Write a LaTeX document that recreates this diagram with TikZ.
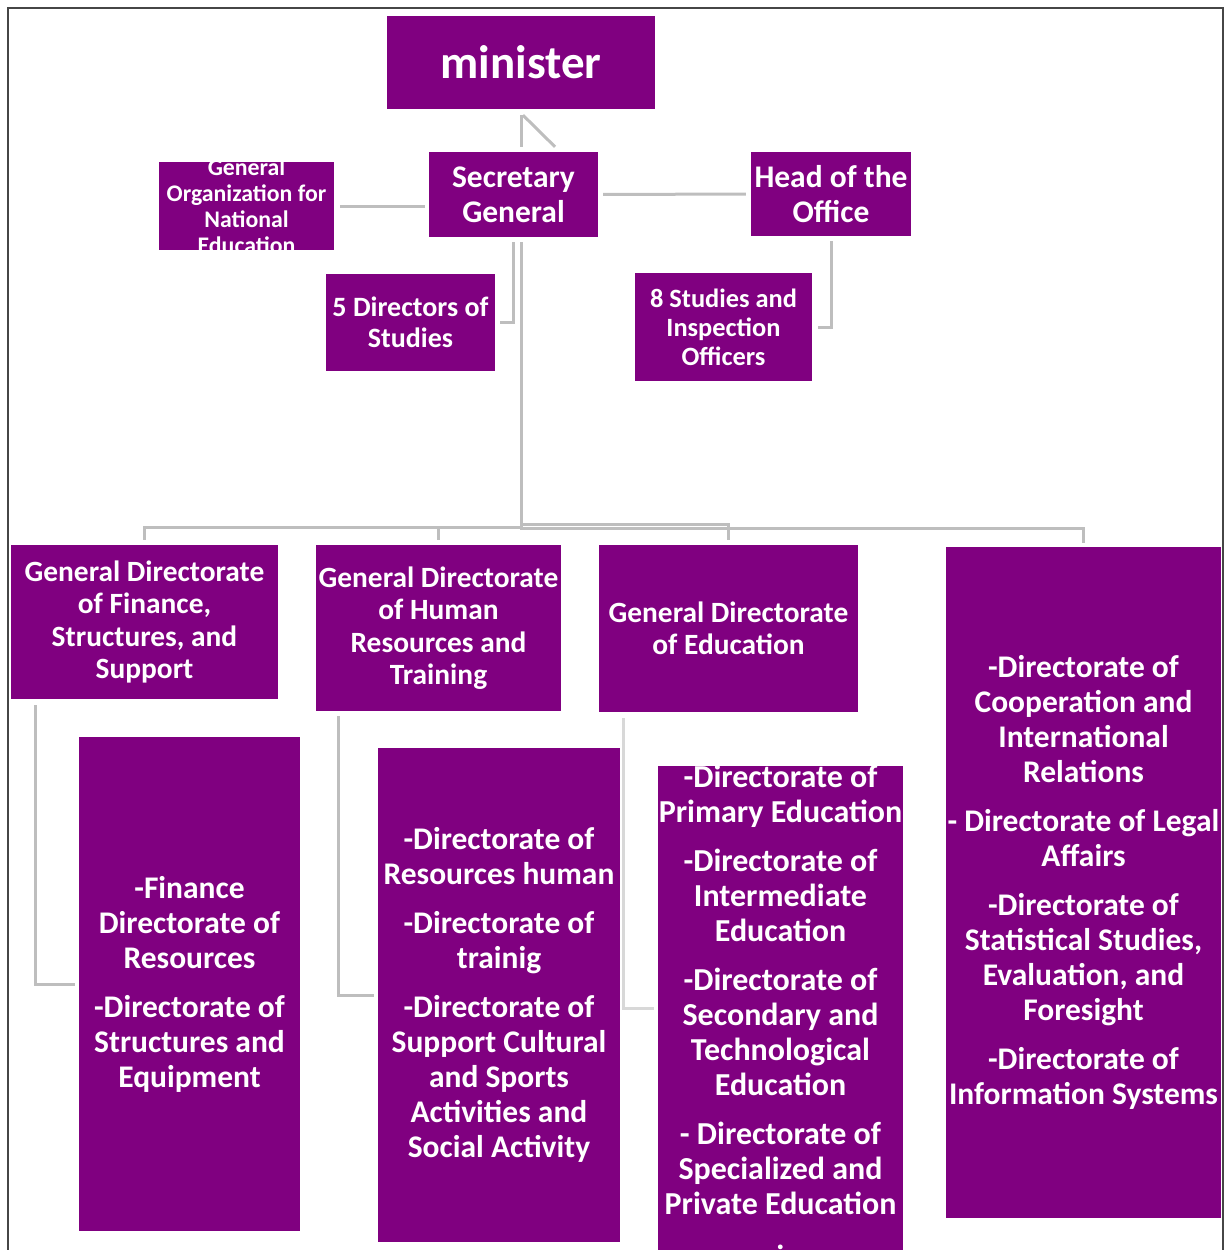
\documentclass[tikz,border=0pt]{standalone}
\usepackage{fontspec}
\setmainfont{Carlito}
\usetikzlibrary{calc}
\definecolor{orgpurple}{RGB}{128,0,128}
\definecolor{linkgray}{RGB}{190,190,190}
\definecolor{framegray}{RGB}{70,70,70}

\begin{document}
\begin{tikzpicture}[x=1pt,y=-1pt,
  box/.style={fill=orgpurple, text=white, inner sep=0pt, align=center},
  boxtext/.style={text=white, inner sep=0pt, align=center},
  link/.style={draw=linkgray, line width=3pt},
  fmin/.style={font=\fontsize{47}{52}\selectfont\bfseries},
  fbig/.style={font=\fontsize{31.5}{35}\selectfont\bfseries},
  fgd/.style={font=\fontsize{29.4}{32.5}\selectfont\bfseries},
  fdir/.style={font=\fontsize{28}{31}\selectfont\bfseries},
  finsp/.style={font=\fontsize{26.4}{29}\selectfont\bfseries},
  forg/.style={font=\fontsize{23.8}{26}\selectfont\bfseries},
]
\useasboundingbox (0,0) rectangle (1229,1250);

% outer frame, open at the bottom
\draw[framegray, line width=1.3pt] (8,1252) -- (8,8) -- (1223,8) -- (1223,1252);

% top level
\node[box, fmin, minimum width=268, minimum height=93] (min) at (521,62.5) {minister};
\node[box, fbig, minimum width=169, minimum height=85] (sg) at (513.5,194.5) {Secretary\\General};
\node[box, fbig, minimum width=160, minimum height=84] (head) at (831,194) {Head of the\\Office};
\node[box, minimum width=175, minimum height=88] (gorg) at (246.5,206) {};
\begin{scope}
  \clip (gorg.north west) rectangle (gorg.south east);
  \node[boxtext, forg] at (gorg.center) {General\\Organization for\\National\\Education};
\end{scope}
\node[box, fdir, minimum width=169, minimum height=97] (dir5) at (410.5,322.5) {5 Directors of\\Studies};
\node[box, finsp, minimum width=177, minimum height=108] (insp) at (723.5,327) {8 Studies and\\Inspection\\Officers};

% general directorates
\node[box, fgd, minimum width=267, minimum height=154] (gdf) at (144.5,622) {General Directorate\\of Finance,\\Structures, and\\Support};
\node[box, fgd, minimum width=245, minimum height=166] (gdh) at (438.5,628) {General Directorate\\of Human\\Resources and\\Training};
\node[box, fgd, minimum width=259, minimum height=167] (gde) at (728.5,628.5) {General Directorate\\of Education};
\node[box, fbig, minimum width=275, minimum height=671] (coop) at (1083.5,882.5)
  {-Directorate of\\Cooperation and\\International\\Relations\\[14pt]
   - Directorate of Legal\\Affairs\\[14pt]
   -Directorate of\\Statistical Studies,\\Evaluation, and\\Foresight\\[14pt]
   -Directorate of\\Information Systems};

% directorates
\node[box, fbig, minimum width=221, minimum height=494] (fsub) at (189.5,984)
  {-Finance\\Directorate of\\Resources\\[14pt]
   -Directorate of\\Structures and\\Equipment};
\node[box, fbig, minimum width=242, minimum height=494] (hsub) at (499,995)
  {-Directorate of\\Resources human\\[14pt]
   -Directorate of\\trainig\\[14pt]
   -Directorate of\\Support Cultural\\and Sports\\Activities and\\Social Activity};
\node[box, minimum width=245, minimum height=490] (esub) at (780.5,1011) {};
\begin{scope}
  \clip (esub.north west) rectangle (esub.south east);
  \node[boxtext, font=\fontsize{32}{35}\selectfont\bfseries] at ($(esub.center)+(0,-4)$)
    {-Directorate of\\Primary Education\\[14pt]
     -Directorate of\\Intermediate\\Education\\[14pt]
     -Directorate of\\Secondary and\\Technological\\Education\\[14pt]
     - Directorate of\\Specialized and\\Private Education\\.};
\end{scope}

% connectors
\coordinate (trunk) at ($(min.south)+(0,6)$);
\coordinate (sgtop) at ($(min.south |- sg.north)+(0,-5)$);
\coordinate (sgdiag) at ($(sg.north)+(41.5,-5)$);
\draw[link] (trunk) -- (sgtop);
\draw[link] ($(trunk)+(2,0)$) -- (sgdiag);
\draw[link, shorten <=6pt, shorten >=4pt] (gorg.east) -- (gorg.east -| sg.west);
\draw[link, shorten <=5pt, shorten >=5pt] (sg.east) -- (head.west);
\draw[link, shorten <=5pt, shorten >=5pt] (sg.south) -- (sg.south |- dir5.east) -- (dir5.east);
\draw[link, shorten <=5pt, shorten >=6pt] (head.south) -- (head.south |- insp.east) -- (insp.east);

% bus to the general directorates
\coordinate (bus) at (min.south |- 0,527);
\coordinate (busR) at (min.south |- 0,528);
\coordinate (busE) at (min.south |- 0,524);
\coordinate (coopTop) at ($(coop.north)+(0,-4)$);
\coordinate (gdfTop) at ($(gdf.north)+(0,-5)$);
\coordinate (gdhTop) at ($(gdh.north)+(0,-5)$);
\coordinate (gdeTop) at ($(gde.north)+(0,-5)$);
\draw[link, shorten <=5pt] (sg.south -| min.south) -- (busR) -- (coop.north |- busR) -- (coopTop);
\draw[link] (bus) -- (gdf.north |- bus) -- (gdfTop);
\draw[link] (gdh.north |- bus) -- (gdhTop);
\draw[link] (busE) -- (gde.north |- busE) -- (gdeTop);

% general directorates to their directorates
\coordinate (fdrop) at ($(gdf.south west)+(25,0)$);
\coordinate (hdrop) at ($(gdh.south west)+(23,0)$);
\coordinate (edrop) at ($(gde.south west)+(25,0)$);
\coordinate (ejoin) at (edrop |- 0,1008);
\draw[link, shorten <=6pt, shorten >=4pt] (fdrop) -- (fdrop |- fsub.west) -- (fsub.west);
\draw[link, shorten <=5pt, shorten >=4pt] (hdrop) -- (hdrop |- hsub.west) -- (hsub.west);
\draw[link, draw=linkgray!60, shorten <=6pt, shorten >=4pt] (edrop) -- (ejoin) -- (esub.west |- ejoin);
\end{tikzpicture}
\end{document}
